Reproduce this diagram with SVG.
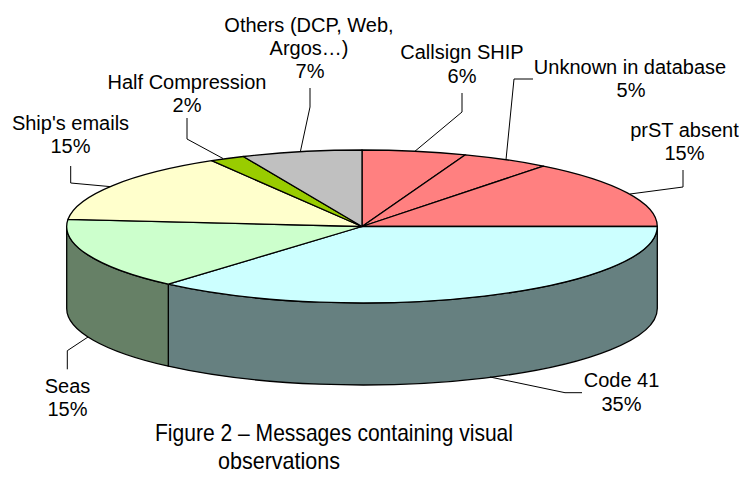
<svg xmlns="http://www.w3.org/2000/svg" width="739" height="495" viewBox="0 0 739 495">
<style>
.s{stroke:#000;stroke-width:1.3;stroke-linejoin:round}
.t{font-family:"Liberation Sans",Arial,sans-serif;font-size:20px;fill:#000;text-anchor:middle}
.cap{font-family:"Liberation Sans",Arial,sans-serif;font-size:24px;fill:#000}
.ld{fill:none;stroke:#000;stroke-width:1}
</style>
<rect width="739" height="495" fill="#fff"/>
<g id="sides">
<path class="s" fill="#668080" d="M657.3,226.5 A295.3,76.5 0 0 1 168.3,284.2 L168.3,366.2 A295.3,76.5 0 0 0 657.3,308.5 Z"/>
<path class="s" fill="#668066" d="M168.3,284.2 A295.3,76.5 0 0 1 66.7,226.5 L66.7,308.5 A295.3,76.5 0 0 0 168.3,366.2 Z"/>
</g>
<g id="slice-callsign"><path class="s" fill="#FF8080" d="M362,226.5 L362,150 A295.3,76.5 0 0 1 465.4,154.8 Z"/></g>
<g id="slice-unknown"><path class="s" fill="#FF8080" d="M362,226.5 L465.4,154.8 A295.3,76.5 0 0 1 543.4,166.1 Z"/></g>
<g id="slice-prst"><path class="s" fill="#FF8080" d="M362,226.5 L543.4,166.1 A295.3,76.5 0 0 1 657.3,226.5 Z"/></g>
<g id="slice-code41"><path class="s" fill="#CCFFFF" d="M362,226.5 L657.3,226.5 A295.3,76.5 0 0 1 168.3,284.2 Z"/></g>
<g id="slice-seas"><path class="s" fill="#CCFFCC" d="M362,226.5 L168.3,284.2 A295.3,76.5 0 0 1 68,219.3 Z"/></g>
<g id="slice-ships"><path class="s" fill="#FFFFCC" d="M362,226.5 L68,219.3 A295.3,76.5 0 0 1 211.7,160.7 Z"/></g>
<g id="slice-half"><path class="s" fill="#99CC00" d="M362,226.5 L211.7,160.7 A295.3,76.5 0 0 1 243.3,156.5 Z"/></g>
<g id="slice-others"><path class="s" fill="#C0C0C0" d="M362,226.5 L243.3,156.5 A295.3,76.5 0 0 1 362,150 Z"/></g>
<g id="connectors">
<polyline class="ld" points="310,88 310,107 300.5,151"/>
<polyline class="ld" points="462,93 462,112 415,151.2"/>
<polyline class="ld" points="533,79 514,79 506,159.7"/>
<polyline class="ld" points="683,170 683,187 630,194"/>
<polyline class="ld" points="187,118 187,139 223,158.5"/>
<polyline class="ld" points="70.7,166 70.7,183 110,186.6"/>
<polyline class="ld" points="88,337 67.3,350.7 67.3,369.3"/>
<polyline class="ld" points="490,377 565,392.7 582,392.7"/>
</g>
<g id="label-others"><text class="t" x="309" y="32">Others (DCP, Web,</text><text class="t" x="309" y="55">Argos…)</text><text class="t" x="310" y="78">7%</text></g>
<g id="label-callsign"><text class="t" x="462" y="59">Callsign SHIP</text><text class="t" x="462" y="83">6%</text></g>
<g id="label-unknown"><text class="t" x="630" y="74">Unknown in database</text><text class="t" x="631" y="97">5%</text></g>
<g id="label-prst"><text class="t" x="684.5" y="137">prST absent</text><text class="t" x="684.5" y="160">15%</text></g>
<g id="label-half"><text class="t" x="187" y="89">Half Compression</text><text class="t" x="187" y="112">2%</text></g>
<g id="label-ships"><text class="t" x="70.5" y="130">Ship's emails</text><text class="t" x="70.5" y="153">15%</text></g>
<g id="label-seas"><text class="t" x="67.5" y="393">Seas</text><text class="t" x="67.5" y="416">15%</text></g>
<g id="label-code41"><text class="t" x="621.5" y="387">Code 41</text><text class="t" x="621.5" y="411">35%</text></g>
<g id="caption"><text class="cap" x="155" y="441" textLength="358" lengthAdjust="spacingAndGlyphs">Figure 2 – Messages containing visual</text><text class="cap" x="218" y="469" textLength="122" lengthAdjust="spacingAndGlyphs">observations</text></g>
</svg>
